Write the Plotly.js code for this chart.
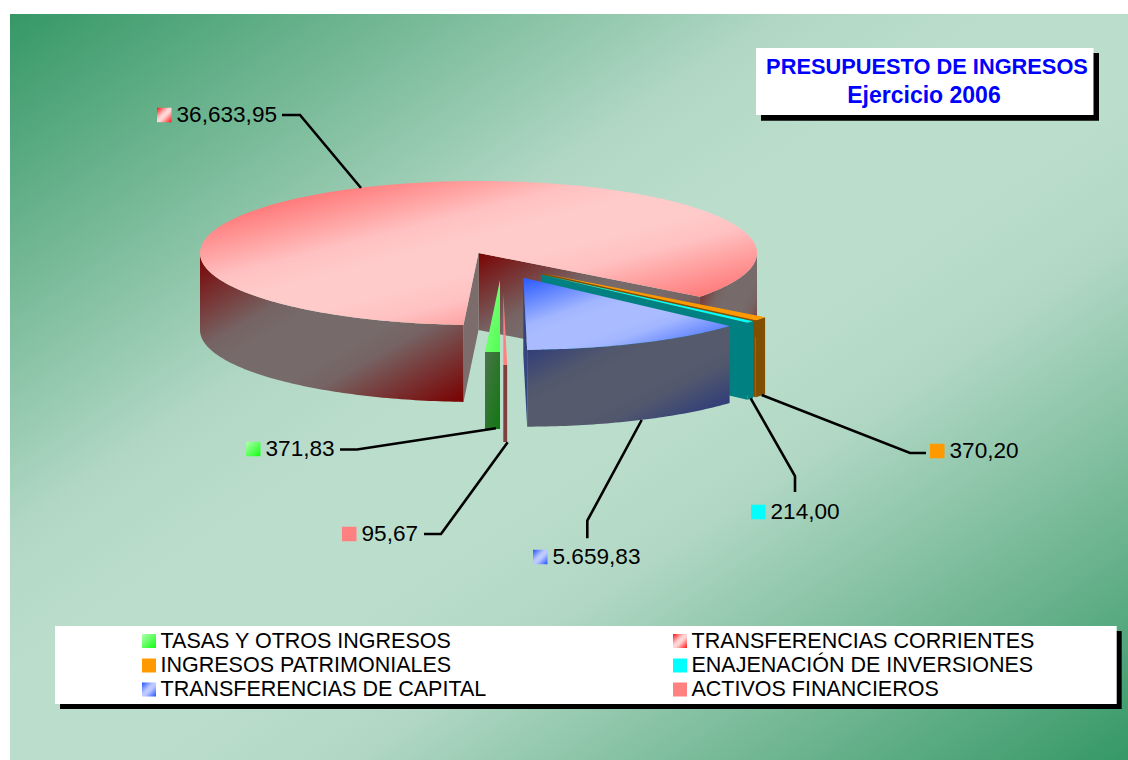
<!DOCTYPE html>
<html><head><meta charset="utf-8">
<script src="https://cdn.plot.ly/plotly-3.0.1.min.js"></script>
<style>html,body{margin:0;padding:0;background:#fff}#chart{width:1128px;height:760px}</style>
</head><body><div id="chart"></div>
<script>
// ---- data ----
const categories = ['TASAS Y OTROS INGRESOS','TRANSFERENCIAS CORRIENTES','INGRESOS PATRIMONIALES','ENAJENACIÓN DE INVERSIONES','TRANSFERENCIAS DE CAPITAL','ACTIVOS FINANCIEROS'];
const values = [371.83, 36633.95, 370.20, 214.00, 5659.83, 95.67];
const valueLabels = ['371,83','36,633,95','370,20','214,00','5.659,83','95,67'];
const titleLines = ['PRESUPUESTO DE INGRESOS','Ejercicio 2006'];

// ---- pie projection ----
const RX = 278.5, RY = 72, DEPTH = 77, FIRST_ANGLE = 180;
const pieCentres = [[500,280],[478.5,253],[543.7,273.6],[541,274.5],[523.3,277.7],[503.3,293]];

// ---- styles ----
function mix(a,b,t){ const p=s=>[1,3,5].map(i=>parseInt(s.substr(i,2),16));
  const A=p(a),B=p(b); return 'rgb('+A.map((v,i)=>Math.round(v+(B[i]-v)*t)).join(',')+')'; }
// symmetric corner-to-corner ramp, eased into a flat middle of half-width w
function diag(a,b,w){ w=w||0; const e=0.5-w; const s=[[0,a]];
  [0.5,0.8].forEach((f,i)=>s.push([e*f,mix(a,b,[0.58,0.93][i])]));
  s.push([e,b]); if(w) s.push([1-e,b]);
  [0.8,0.5].forEach((f,i)=>s.push([1-e*f,mix(a,b,[0.93,0.58][i])]));
  s.push([1,a]); return s; }
const ramp = (a,b)=>[[0,a],[1,b]];
const topFill = [ramp('#50ff50','#8cff8c'),diag('#ff4a4a','#ffcaca',0.06),'#ff9900','#00ffff',diag('#2858ff','#aabcff',0.08),'#ff8080'];
const wallFill = [ramp('#107810','#4a744a'),diag('#7a0000','#766a6a',0.1),'#805000','#008080',diag('#1e2e80','#555a6c',0.1),'#804040'];
const faceFill = [null,diag('#7a0404','#776a6a',0.08),'#805000','#008080','#34447e',null];
const swatchFill = [ramp('#10ff10','#b0ffb0'),diag('#ff1010','#ffd8d8'),'#ff9900','#00ffff',diag('#2050ff','#c0ccff'),'#ff8080'];
const BASE = 'Liberation Sans, Arial, sans-serif';

// ---- helpers ----
const traces = [];
function poly(xs, ys, fill){
  const t = {type:'scatter',mode:'none',fill:'toself',x:xs,y:ys,hoverinfo:'skip',showlegend:false,cliponaxis:false};
  if(typeof fill === 'string') t.fillcolor = fill;
  else t.fillgradient = {type:'horizontal',colorscale:fill};
  traces.push(t);
}
function rect(x0,y0,x1,y1,fill){ poly([x0,x1,x1,x0,x0],[y0,y0,y1,y1,y0],fill); }
function pt(c,a,dz){ const r=a*Math.PI/180; return [c[0]+RX*Math.sin(r), c[1]-RY*Math.cos(r)+(dz||0)]; }
function arc(c,a0,a1,dz){ const out=[]; const n=Math.max(2,Math.ceil(Math.abs(a1-a0)));
  for(let i=0;i<=n;i++) out.push(pt(c,a0+(a1-a0)*i/n,dz)); return out; }
function addPts(pts,fill){ poly(pts.map(p=>p[0]).concat(pts[0][0]),pts.map(p=>p[1]).concat(pts[0][1]),fill); }
function wall(c,a0,a1,fill){ addPts(arc(c,a0,a1,0).concat(arc(c,a1,a0,DEPTH)),fill); }
function face(c,a,fill){ const o=pt(c,a); addPts([c,o,[o[0],o[1]+DEPTH],[c[0],c[1]+DEPTH]],fill); }
function topFace(c,a0,a1,fill){ addPts([c].concat(arc(c,a0,a1,0)),fill); }

// slice angles from values
const total = values.reduce((a,b)=>a+b,0);
const angles = []; let acc = FIRST_ANGLE;
values.forEach(v=>{ const a0=acc; acc+=v/total*360; angles.push([a0,acc]); });

// background
rect(10,14,1128,760,diag('#369866','#bbddcc',0.06));

// big slice (index 1)
{ const [a0,a1]=angles[1], c=pieCentres[1];
  face(c,a1,faceFill[1]);
  wall(c,450,a1,wallFill[1]);
  face(c,a0,'#7c6c6c');
  wall(c,a0,270,wallFill[1]);
  topFace(c,a0,a1,topFill[1]);
}
// orange, teal, blue
[2,3,4].forEach(i=>{ const [a0,a1]=angles[i], c=pieCentres[i];
  face(c,a1,faceFill[i]);
  wall(c,a0,a1,wallFill[i]);
  topFace(c,a0,a1,topFill[i]);
});
// green and small pink
[0,5].forEach(i=>{ const [a0,a1]=angles[i], c=pieCentres[i];
  wall(c,a0,a1,wallFill[i]);
  topFace(c,a0,a1,topFill[i]);
});

// leader lines
const leaders = [
  [[340,449.5],[357,449.5],[496,428.3]],
  [[282,115],[300,115],[361,188]],
  [[926,453],[910,453],[761.7,395]],
  [[795,492],[795,476],[750.7,398.3]],
  [[587.3,538.3],[587.3,520.7],[641.7,420]],
  [[424,534],[441,534],[507.7,442.3]]
];
leaders.forEach(l=>traces.push({type:'scatter',mode:'lines',x:l.map(p=>p[0]),y:l.map(p=>p[1]),
  line:{color:'#000',width:2.6},hoverinfo:'skip',showlegend:false,cliponaxis:false}));

// title box
rect(761,53,1099,120.7,'#000');
rect(756,48,1093.5,115,'#fff');
// legend box
rect(60,631,1121.7,709,'#000');
rect(55,626,1116.7,704,'#fff');

// value labels
const labelAt = [[246,449],[157,115],[930,451],[751,512],[533,557],[342,534]];
const SW = 14.5;
labelAt.forEach((p,i)=>rect(p[0],p[1]-SW/2,p[0]+SW,p[1]+SW/2,swatchFill[i]));
traces.push({type:'scatter',mode:'text',x:labelAt.map(p=>p[0]+19.5),y:labelAt.map(p=>p[1]+1),text:valueLabels,
  textposition:'middle right',textfont:{family:BASE,size:22.6,color:'#000'},hoverinfo:'skip',showlegend:false,cliponaxis:false});

// legend
const legAt = [[142,641],[673,641],[142,665.5],[673,665.5],[142,689.5],[673,689.5]];
legAt.forEach((p,i)=>rect(p[0],p[1]-7,p[0]+14,p[1]+7,swatchFill[i]));
traces.push({type:'scatter',mode:'text',x:legAt.map(p=>p[0]+18.5),y:legAt.map(p=>p[1]+1.5),text:categories,
  textposition:'middle right',textfont:{family:BASE,size:21.5,color:'#000'},hoverinfo:'skip',showlegend:false,cliponaxis:false});

// title
traces.push({type:'scatter',mode:'text',x:[927],y:[68.5],text:[titleLines[0]],textposition:'middle center',
  textfont:{family:BASE,size:21.8,color:'#0000ff',weight:700},hoverinfo:'skip',showlegend:false,cliponaxis:false});
traces.push({type:'scatter',mode:'text',x:[924],y:[97],text:[titleLines[1]],textposition:'middle center',
  textfont:{family:BASE,size:23,color:'#0000ff',weight:700},hoverinfo:'skip',showlegend:false,cliponaxis:false});

const axis = {visible:false,fixedrange:true,showgrid:false,zeroline:false};
const layout = {width:1128,height:760,margin:{l:0,r:0,t:0,b:0},showlegend:false,
  paper_bgcolor:'#fff',plot_bgcolor:'rgba(0,0,0,0)',
  xaxis:Object.assign({range:[0,1128]},axis),
  yaxis:Object.assign({range:[760,0]},axis)};
Plotly.newPlot('chart',traces,layout,{displayModeBar:false,staticPlot:true}).then(gd=>{
  // corner-to-corner gradient direction, as in the original
  gd.querySelectorAll('defs linearGradient').forEach(g=>{
    g.setAttribute('gradientUnits','objectBoundingBox');
    g.setAttribute('x1','0');g.setAttribute('y1','0');g.setAttribute('x2','1');g.setAttribute('y2','1');
    g.removeAttribute('gradientTransform');
  });
});
</script></body></html>
